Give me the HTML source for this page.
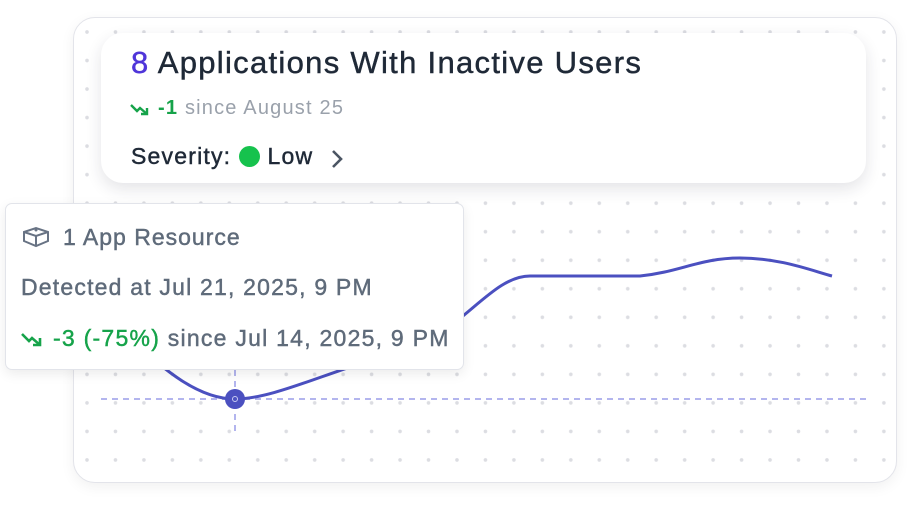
<!DOCTYPE html>
<html><head><meta charset="utf-8"><style>
html,body{margin:0;padding:0;width:908px;height:510px;background:#fff;overflow:hidden;font-family:"Liberation Sans",sans-serif;}
.outer{position:absolute;left:73px;top:17px;width:822px;height:464px;border:1px solid #e3e4ea;border-radius:22px;background:#fff;box-shadow:0 4px 14px rgba(0,0,0,0.06);}
.head{position:absolute;left:101px;top:33px;width:765px;height:150px;border-radius:22px;background:#fff;box-shadow:0 6px 16px rgba(30,30,60,0.12);}
.tip{position:absolute;left:5px;top:203px;width:457px;height:165px;border:1px solid #e2e4ea;border-radius:7px;background:#fff;box-shadow:0 4px 12px rgba(0,0,0,0.08);}
.m{-webkit-text-stroke:0.45px currentColor;}
</style></head><body>
<div class="outer"></div>
<svg style="position:absolute;left:0;top:0" width="908" height="510">
<defs><pattern id="d" x="87" y="32" width="28.46" height="28.53" patternUnits="userSpaceOnUse"><circle cx="0" cy="0" r="1.8" fill="#dcdde2"/><circle cx="28.46" cy="0" r="1.8" fill="#dcdde2"/><circle cx="0" cy="28.53" r="1.8" fill="#dcdde2"/><circle cx="28.46" cy="28.53" r="1.8" fill="#dcdde2"/></pattern></defs>
<rect x="85" y="30" width="802" height="433" fill="url(#d)"/>
<line x1="101" y1="399" x2="866" y2="399" stroke="#b3b5ee" stroke-width="2" stroke-dasharray="6,5"/>
<line x1="235" y1="370" x2="235" y2="433" stroke="#b3b5ee" stroke-width="2" stroke-dasharray="6,5"/>
<path d="M120,330 C150,355 190,399 235,399 C275,399 330,370 400,352 C460,336 490,276 530,276 L640,276 C680,272 700,258 740,258 C780,258 810,270 832,276" fill="none" stroke="#4b50c0" stroke-width="3"/>
<circle cx="235" cy="399" r="10" fill="#4b50c0"/>
<circle cx="235" cy="399" r="2.5" fill="none" stroke="#c9cbf2" stroke-width="1"/>
</svg>
<div class="head">
<div class="m" style="position:absolute;left:30px;top:12px;font-size:31px;letter-spacing:1.3px;color:#1f2937;white-space:nowrap"><span style="color:#4f35d9">8</span> Applications With Inactive Users</div>
<svg style="position:absolute;left:29px;top:69px" width="20" height="14" viewBox="0 0 20 14"><polyline points="1,3 7,9 10,6 17,12" fill="none" stroke="#16a34a" stroke-width="2.4"/><polyline points="11,12 17,12 17,6" fill="none" stroke="#16a34a" stroke-width="2.4"/></svg>
<div style="position:absolute;left:57px;top:64px;font-size:20px;letter-spacing:1.2px;color:#9aa1ab;white-space:nowrap"><span style="color:#16a34a;font-weight:bold">-1</span> since August 25</div>
<div class="m" style="position:absolute;left:30px;top:110px;font-size:23px;letter-spacing:1.2px;color:#1f2937;white-space:nowrap">Severity: <span style="display:inline-block;width:21px;height:21px;border-radius:50%;background:#16c24d;vertical-align:-3px"></span> Low</div>
<svg style="position:absolute;left:229px;top:115px" width="14" height="22" viewBox="0 0 14 22"><polyline points="3,3 11,11 3,19" fill="none" stroke="#4b5563" stroke-width="2.6"/></svg>
</div>
<div class="tip">
<svg style="position:absolute;left:15px;top:22px" width="30" height="22" viewBox="0 0 30 22"><path d="M3,6 L15,2 L27,6 L27,15 L15,20 L3,15 Z M3,6 L15,10 L27,6 M15,10 L15,20" fill="none" stroke="#687384" stroke-width="2"/><circle cx="15" cy="4" r="1.5" fill="#687384"/></svg>
<div class="m" style="position:absolute;left:57px;top:20px;font-size:23px;letter-spacing:1px;color:#5f6b7a;white-space:nowrap">1 App Resource</div>
<div class="m" style="position:absolute;left:15px;top:70px;font-size:23px;letter-spacing:1.2px;color:#5f6b7a;white-space:nowrap">Detected at Jul 21, 2025, 9 PM</div>
<svg style="position:absolute;left:15px;top:127px" width="22" height="16" viewBox="0 0 22 16"><polyline points="1,3 8,10 11,7 19,14" fill="none" stroke="#16a34a" stroke-width="2.6"/><polyline points="12,14 19,14 19,7" fill="none" stroke="#16a34a" stroke-width="2.6"/></svg>
<div class="m" style="position:absolute;left:47px;top:121px;font-size:23px;letter-spacing:1.25px;color:#5f6b7a;white-space:nowrap"><span style="color:#16a34a">-3 (-75%)</span> since Jul 14, 2025, 9 PM</div>
</div>
</body></html>
